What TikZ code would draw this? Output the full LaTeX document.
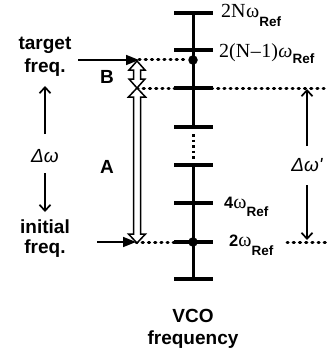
\documentclass[tikz,border=0pt]{standalone}
\usepackage{fontspec}
\setmainfont{Liberation Serif}
\setsansfont{Liberation Sans}
\usetikzlibrary{arrows.meta}
\newcommand\myRef[1]{\raisebox{-#1pt}{\fontsize{13.5}{13.5}\selectfont\sffamily\bfseries Ref}}
\tikzset{
  axisline/.style={line width=3pt},
  tickline/.style={line width=3.5pt},
  dotline/.style={line width=3pt, dash pattern=on 1.2pt off 5pt, line cap=round},
  vdotline/.style={line width=3pt, dash pattern=on 2.5pt off 3pt},
  hollow/.style={draw, line width=1.5pt, fill=white, line join=miter},
  ptr/.style={line width=1.7pt, -{Triangle[length=13pt,width=10pt]}},
  barb/.style={line width=1.7pt, -{Straight Barb[length=6pt,width=11pt]}},
  sflabel/.style={font=\fontsize{19}{22}\selectfont\sffamily\bfseries, inner sep=0, anchor=base},
  serlabel/.style={font=\fontsize{20}{22}\selectfont, inner sep=0, anchor=base west},
  dlabel/.style={font=\fontsize{19}{22}\selectfont\sffamily\itshape, inner sep=0},
  bigdot/.style={circle, fill=black, inner sep=0, minimum size=9.5pt},
}
\begin{document}
\begin{tikzpicture}[x=1pt,y=-1pt]
\useasboundingbox (0,0) rectangle (327,353);

% axis ticks
\foreach \y/\n in {13/1,50/2,88/3,127/4,165/5,203/6,242/7,279/8}{
  \coordinate (k\n) at (193,\y);
  \draw[tickline] ([xshift=-19pt]k\n) -- ([xshift=20pt]k\n);
}
\draw[axisline] (k1) -- (k4);
\coordinate (vd1) at (193,134);
\coordinate (vd2) at (193,160);
\draw[vdotline] (vd1) -- (vd2);
\draw[axisline] (k5) -- (k8);

\node[bigdot] (dotB) at (193,60) {};
\node[bigdot] (dotA) at (k7) {};

% axis labels
\node[serlabel] (l1) at (221,18) {2N\kern0.5ptω\myRef{9}};
\node[serlabel] (l2) at (219,57) {2(N\kern0.5pt–\kern0.5pt1)\kern0.5pt\textit{ω}\myRef{6}};
\node[serlabel] (l6) at (224,208) {\fontsize{16.5}{16}\selectfont\sffamily\bfseries 4\fontsize{20}{20}\selectfont\rmfamily\mdseries ω\myRef{8}};
\node[serlabel] (l7) at (229,246) {\fontsize{16.5}{16}\selectfont\sffamily\bfseries 2\fontsize{20}{20}\selectfont\rmfamily\mdseries ω\myRef{9}};

% key coordinates
\coordinate (tgtTip) at (139,60);
\coordinate (tgtStart) at (78,60);
\coordinate (iniTip) at (136,242);
\coordinate (iniStart) at (97,242);
\coordinate (cross) at (137,88);
\coordinate (right88) at (327,88);
\coordinate (d242a) at (287,242);
\coordinate (right242) at (327,242);
\coordinate (Btop) at (137,61);
\coordinate (Bbot) at (137,88);
\coordinate (Atop) at (137,88);
\coordinate (Abot) at (137,243);

% dotted level lines
\draw[dotline] (tgtTip) -- (dotB);
\draw[dotline] (cross) -- (right88);
\draw[dotline] (iniTip) -- (dotA);
\draw[dotline] (d242a) -- (right242);

% hollow double arrows
\draw[hollow] (Atop) -- ++(8.5,9) -- ++(-5,0) -- ++(0,137) -- ++(5,0) -- (Abot)
  -- ++(-8.5,-9) -- ++(5,0) -- ++(0,-137) -- ++(-5,0) -- cycle;
\draw[hollow] (Btop) -- ++(8,9) -- ++(-4.5,0) -- ++(0,9) -- ++(4.5,0) -- (Bbot)
  -- ++(-8,-9) -- ++(4.5,0) -- ++(0,-9) -- ++(-4.5,0) -- cycle;

% pointer arrows
\draw[ptr] (tgtStart) -- (tgtTip);
\draw[ptr] (iniStart) -- (iniTip);

% left labels
\node[sflabel] (tgt1) at (45,50) {target};
\node[sflabel] (tgt2) at (45,73) {freq.};
\node[sflabel] (ini1) at (45,233) {initial};
\node[sflabel] (ini2) at (45,253) {freq.};
\node[sflabel, anchor=center] (B) at (107,77) {B};
\node[sflabel, anchor=center] (A) at (107,167) {A};
\node[sflabel] (vco1) at (193,322) {VCO};
\node[sflabel] (vco2) at (193,344) {frequency};

% delta omega (left)
\coordinate (dwUp) at (45,86);
\coordinate (dwUpS) at (45,134);
\node[dlabel] (dw) at (45,156) {Δω};
\coordinate (dwDnS) at (45,173);
\coordinate (dwDn) at (45,212);
\draw[barb] (dwUpS) -- (dwUp);
\draw[barb] (dwDnS) -- (dwDn);

% delta omega' (right)
\coordinate (dpUp) at (307,89);
\coordinate (dpUpS) at (307,146);
\node[dlabel] (dwp) at (307,165) {Δω\textquotesingle};
\coordinate (dpDnS) at (307,185);
\coordinate (dpDn) at (307,240);
\draw[barb] (dpUpS) -- (dpUp);
\draw[barb] (dpDnS) -- (dpDn);
\end{tikzpicture}
\end{document}
